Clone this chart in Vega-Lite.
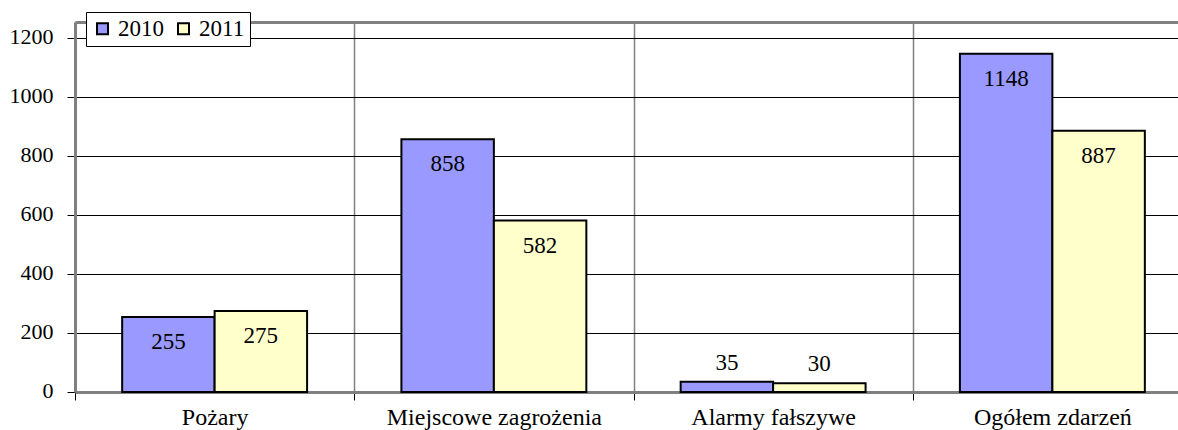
{
  "$schema": "https://vega.github.io/schema/vega-lite/v6.json",
  "autosize": {"type": "none"},
  "width": 1103,
  "height": 370,
  "padding": {"left": 75, "top": 22, "right": 0, "bottom": 38},
  "background": "white",
  "config": {"view": {"stroke": null}, "font": "Liberation Serif"},
  "data": {"values": [
    {"cat": "Pożary", "year": "2010", "value": 255},
    {"cat": "Pożary", "year": "2011", "value": 275},
    {"cat": "Miejscowe zagrożenia", "year": "2010", "value": 858},
    {"cat": "Miejscowe zagrożenia", "year": "2011", "value": 582},
    {"cat": "Alarmy fałszywe", "year": "2010", "value": 35},
    {"cat": "Alarmy fałszywe", "year": "2011", "value": 30},
    {"cat": "Ogółem zdarzeń", "year": "2010", "value": 1148},
    {"cat": "Ogółem zdarzeń", "year": "2011", "value": 887}
  ]},
  "encoding": {
    "x": {
      "field": "cat", "type": "nominal",
      "sort": ["Pożary", "Miejscowe zagrożenia", "Alarmy fałszywe", "Ogółem zdarzeń"],
      "scale": {"range": [0, 1117], "paddingInner": 0, "paddingOuter": 0},
      "axis": {
        "title": null, "tickBand": "extent", "grid": true, "gridColor": "#808080", "gridWidth": 1.5,
        "domainColor": "#808080", "domainWidth": 3, "tickColor": "black", "tickSize": 8,
        "labelPadding": 5, "labelFontSize": 24, "labelColor": "black", "labelAngle": 0,
        "labelLimit": 0, "labelFont": "Liberation Serif"
      }
    },
    "xOffset": {"field": "year", "type": "nominal", "scale": {"paddingInner": 0, "paddingOuter": 0.51}},
    "y": {
      "field": "value", "type": "quantitative",
      "scale": {"domain": [0, 1256], "nice": false},
      "axis": {
        "title": null, "values": [0, 200, 400, 600, 800, 1000, 1200, 1256], "format": "d",
        "labelExpr": "datum.value > 1200 ? '' : datum.label",
        "grid": true,
        "gridColor": {"condition": {"test": "datum.value > 1200", "value": "#808080"}, "value": "black"},
        "gridWidth": {"condition": {"test": "datum.value > 1200", "value": 3}, "value": 1},
        "tickColor": {"condition": {"test": "datum.value > 1200", "value": "transparent"}, "value": "black"},
        "domainColor": "#808080", "domainWidth": 3, "tickSize": 8, "labelPadding": 14,
        "labelFontSize": 22, "labelColor": "black", "labelFont": "Liberation Serif", "labelOffset": -2
      }
    }
  },
  "layer": [
    {
      "mark": {"type": "bar", "stroke": "black", "strokeWidth": 2},
      "encoding": {
        "color": {
          "field": "year", "type": "nominal",
          "scale": {"domain": ["2010", "2011"], "range": ["#9999FF", "#FFFFCC"]},
          "legend": {
            "orient": "none", "legendX": 11, "legendY": -10, "direction": "horizontal",
            "title": null, "symbolType": "square", "symbolSize": 121,
            "symbolStrokeColor": "black", "symbolStrokeWidth": 2, "symbolOpacity": 1,
            "labelFontSize": 23, "labelFont": "Liberation Serif", "labelColor": "black",
            "strokeColor": "black", "fillColor": "white", "padding": 5,
            "labelOffset": 4, "columnPadding": 8
          }
        }
      }
    },
    {
      "transform": [{"filter": "datum.value >= 100"}],
      "mark": {"type": "text", "dy": 25, "fontSize": 23, "font": "Liberation Serif", "color": "black", "baseline": "middle"},
      "encoding": {"text": {"field": "value", "type": "quantitative", "format": "d"}}
    },
    {
      "transform": [{"filter": "datum.value < 100"}],
      "mark": {"type": "text", "dy": -19, "fontSize": 23, "font": "Liberation Serif", "color": "black", "baseline": "middle"},
      "encoding": {"text": {"field": "value", "type": "quantitative", "format": "d"}}
    }
  ]
}
